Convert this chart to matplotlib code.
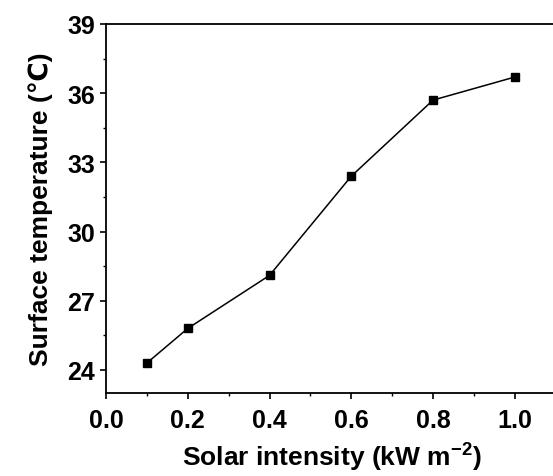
import numpy as np
import matplotlib.pyplot as plt
from matplotlib.ticker import MultipleLocator

# Solar intensity (kW m^-2) vs surface temperature (degC)
intensity = [0.1, 0.2, 0.4, 0.6, 0.8, 1.0]
temperature = [24.3, 25.8, 28.1, 32.4, 35.7, 36.7]

plt.rcParams['font.family'] = ['Liberation Sans', 'DejaVu Sans']
plt.rcParams['font.weight'] = 'bold'
plt.rcParams['mathtext.fontset'] = 'custom'
plt.rcParams['mathtext.rm'] = 'Liberation Sans:bold'
plt.rcParams['mathtext.bf'] = 'Liberation Sans:bold'

fig = plt.figure(figsize=(5.53, 4.77), dpi=100)
ax = fig.add_axes([0.1917, 0.174, 0.8183, 0.7736])

ax.plot(intensity, temperature, color='black', lw=1.1,
        marker='s', markersize=5.2, markerfacecolor='black', markeredgecolor='black')

ax.set_xlim(0, 1.107)
ax.set_ylim(23, 39)
ax.xaxis.set_minor_locator(MultipleLocator(0.1))
ax.yaxis.set_minor_locator(MultipleLocator(1.5))
ax.set_xticks([0.0, 0.2, 0.4, 0.6, 0.8, 1.0])
ax.set_xticklabels(['0.0', '0.2', '0.4', '0.6', '0.8', '1.0'])
ax.set_yticks([24, 27, 30, 33, 36, 39])

ax.tick_params(which='major', direction='out', length=4, width=1.2,
               labelsize=18, pad=4)
ax.tick_params(axis='x', which='major', pad=7)
ax.tick_params(which='minor', direction='out', length=2.5, width=1.0)
for s in ax.spines.values():
    s.set_linewidth(1.3)

ax.set_xlabel('Solar intensity (kW m$^{\\mathbf{-2}}$)', fontsize=19,
              fontweight='bold', labelpad=5)
ax.set_ylabel('Surface temperature (℃)', fontsize=19, fontweight='bold',
              labelpad=10)

fig.savefig('out.png', dpi=100)
